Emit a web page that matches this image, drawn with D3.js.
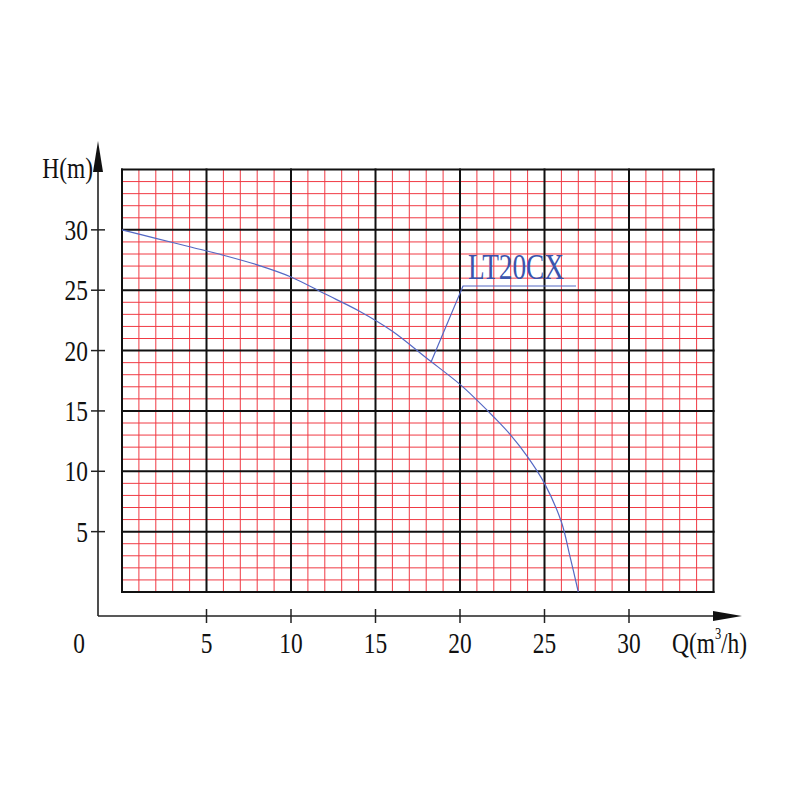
<!DOCTYPE html>
<html><head><meta charset="utf-8">
<script src="https://cdn.jsdelivr.net/npm/d3@7"></script>
<style>html,body{margin:0;padding:0;background:#fff;}</style>
</head><body>
<svg id="c" width="800" height="800"></svg>
<script>
// Data
const flowQ  = [0, 2, 4, 6, 8, 10, 12, 14, 16, 18, 20, 21, 22, 23, 24, 25, 26, 26.5, 27];
const headH  = [30, 29.3, 28.6, 27.9, 27.1, 26.1, 24.7, 23.3, 21.6, 19.4, 17.2, 15.9, 14.5, 13.0, 11.2, 9.0, 5.8, 3.0, 0];
const xTicks = [5, 10, 15, 20, 25, 30];
const yTicks = [5, 10, 15, 20, 25, 30];
const seriesName = "LT20CX";
const labelPoint = [18.3, 19.1];

const svg = d3.select("#c");
const x = d3.scaleLinear().domain([0, 35]).range([122, 713.5]);
const y = d3.scaleLinear().domain([0, 35]).range([592, 169.5]);
const FONT = "'Liberation Serif','Times New Roman',serif";
const SX = 0.78;

// minor grid
const g = svg.append("g");
const minor = d3.range(1, 35).filter(v => v % 5 !== 0);
g.selectAll(".vx").data(minor).join("line")
  .attr("x1", d => x(d)).attr("x2", d => x(d)).attr("y1", y(0)).attr("y2", y(35))
  .attr("stroke", "#f03a44").attr("stroke-width", 1);
g.selectAll(".hy").data(minor).join("line")
  .attr("y1", d => y(d)).attr("y2", d => y(d)).attr("x1", x(0)).attr("x2", x(35))
  .attr("stroke", "#f03a44").attr("stroke-width", 1);
// major grid
const major = d3.range(0, 36, 5);
g.selectAll(".mx").data(major).join("line")
  .attr("x1", d => x(d)).attr("x2", d => x(d)).attr("y1", y(0)+1).attr("y2", y(35)-1)
  .attr("stroke", "#111").attr("stroke-width", 2);
g.selectAll(".my").data(major).join("line")
  .attr("y1", d => y(d)).attr("y2", d => y(d)).attr("x1", x(0)-1).attr("x2", x(35)+1)
  .attr("stroke", "#111").attr("stroke-width", 2);

// axes
const ax = 98, ay = 616;
svg.append("line").attr("x1", ax).attr("x2", ax).attr("y1", ay).attr("y2", 165)
  .attr("stroke", "#222").attr("stroke-width", 1.6);
svg.append("path").attr("d", `M${ax},141 L${ax-5},172 L${ax+5},172 Z`).attr("fill", "#111");
svg.append("line").attr("x1", ax).attr("x2", 720).attr("y1", ay).attr("y2", ay)
  .attr("stroke", "#222").attr("stroke-width", 1.6);
svg.append("path").attr("d", `M742,${ay} L713,${ay-5} L713,${ay+5} Z`).attr("fill", "#111");

svg.selectAll(".xt").data(xTicks).join("line")
  .attr("x1", d => x(d)).attr("x2", d => x(d)).attr("y1", ay-7).attr("y2", ay+7)
  .attr("stroke", "#222").attr("stroke-width", 1.5);
svg.selectAll(".yt").data(yTicks).join("line")
  .attr("y1", d => y(d)).attr("y2", d => y(d)).attr("x1", ax-7).attr("x2", ax+7)
  .attr("stroke", "#222").attr("stroke-width", 1.5);

function label(px, py, txt, anchor, size, color) {
  return svg.append("text")
    .attr("transform", `translate(${px},${py}) scale(${SX},1)`)
    .attr("text-anchor", anchor).attr("font-family", FONT)
    .attr("font-size", size).attr("fill", color || "#111").text(txt);
}
xTicks.forEach(v => label(x(v), 653, String(v), "middle", 30));
label(79, 653, "0", "middle", 30);
yTicks.forEach(v => label(88, y(v) + 10, String(v), "end", 30));
label(93, 178, "H(m)", "end", 30);

// Q(m3/h)
const q = svg.append("text")
  .attr("transform", `translate(672,653) scale(${SX},1)`)
  .attr("font-family", FONT).attr("font-size", 30).attr("fill", "#111");
q.append("tspan").text("Q(m");
q.append("tspan").attr("font-size", 16).attr("dy", -14).text("3");
q.append("tspan").attr("dy", 14).text("/h)");

// curve
const pts = flowQ.map((v, i) => [v, headH[i]]);
svg.append("path").datum(pts)
  .attr("d", d3.line().x(d => x(d[0])).y(d => y(d[1])).curve(d3.curveCatmullRom.alpha(0.5)))
  .attr("fill", "none").attr("stroke", "#5468c4").attr("stroke-width", 1.2);

// series label with leader
const lx = x(labelPoint[0]), ly = y(labelPoint[1]);
svg.append("path")
  .attr("d", `M${lx},${ly} L463,286 L576,286`)
  .attr("fill", "none").attr("stroke", "#5468c4").attr("stroke-width", 1.2);
label(468, 279, seriesName, "start", 35, "#3a54ad");
</script>
</body></html>
